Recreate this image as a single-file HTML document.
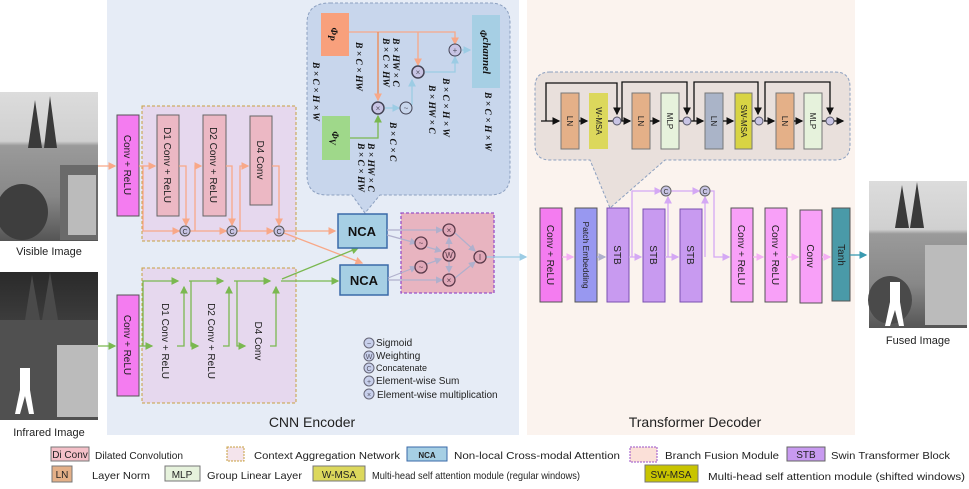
<!DOCTYPE html>
<html><head><meta charset="utf-8"><style>
html,body{margin:0;padding:0;background:#fff}
svg{display:block;font-family:"Liberation Sans",sans-serif}
.vt{font-size:10px;fill:#222}
.m{font-family:"Liberation Serif",serif;font-style:italic;font-weight:bold;font-size:9.5px;fill:#111}
.lg{font-size:10.5px;fill:#222}
</style></head><body>
<svg width="969" height="489" viewBox="0 0 969 489" xmlns="http://www.w3.org/2000/svg">
<defs>
<marker id="ao" markerWidth="6" markerHeight="6" refX="5" refY="3" orient="auto"><path d="M0,0L6,3L0,6z" fill="#f8a888"/></marker>
<marker id="ag" markerWidth="6" markerHeight="6" refX="5" refY="3" orient="auto"><path d="M0,0L6,3L0,6z" fill="#7ab850"/></marker>
<marker id="ab" markerWidth="6" markerHeight="6" refX="5" refY="3" orient="auto"><path d="M0,0L6,3L0,6z" fill="#9ccce4"/></marker>
<marker id="ap" markerWidth="6" markerHeight="6" refX="5" refY="3" orient="auto"><path d="M0,0L6,3L0,6z" fill="#f4b0f4"/></marker>
<marker id="av" markerWidth="6" markerHeight="6" refX="5" refY="3" orient="auto"><path d="M0,0L6,3L0,6z" fill="#d4a8f4"/></marker>
<marker id="ak" markerWidth="6" markerHeight="6" refX="5" refY="3" orient="auto"><path d="M0,0L6,3L0,6z" fill="#111"/></marker>
<marker id="ai" markerWidth="6" markerHeight="6" refX="5" refY="3" orient="auto"><path d="M0,0L6,3L0,6z" fill="#b0b0cc"/></marker>
<marker id="at" markerWidth="6" markerHeight="6" refX="5" refY="3" orient="auto"><path d="M0,0L6,3L0,6z" fill="#3a9ab0"/></marker>
<linearGradient id="vis" x1="0" y1="0" x2="0" y2="1"><stop offset="0" stop-color="#dcdcdc"/><stop offset="0.33" stop-color="#d0d0d0"/><stop offset="0.36" stop-color="#9a9a9a"/><stop offset="0.7" stop-color="#888"/><stop offset="1" stop-color="#555"/></linearGradient>
<linearGradient id="ir" x1="0" y1="0" x2="0" y2="1"><stop offset="0" stop-color="#2a2a2a"/><stop offset="0.4" stop-color="#404040"/><stop offset="1" stop-color="#333"/></linearGradient>
</defs>

<rect x="107" y="0" width="412" height="435" fill="#e6ecf6"/>
<rect x="527" y="0" width="328" height="435" fill="#fbf3ee"/>
<text x="312" y="427" font-size="14" text-anchor="middle" fill="#222">CNN Encoder</text>
<text x="695" y="427" font-size="14" text-anchor="middle" fill="#222">Transformer Decoder</text>

<rect x="0" y="92" width="98" height="149" fill="url(#vis)"/>
<path d="M28,148 L35,100 L42,148z M44,148 L50,96 L57,148z" fill="#3a3a3a"/>
<rect x="60" y="165" width="38" height="75" fill="#6a6a6a"/>
<rect x="68" y="175" width="28" height="60" fill="#bbb"/>
<ellipse cx="22" cy="212" rx="26" ry="28" fill="#3e3e3e"/>
<text x="49" y="255" font-size="11" text-anchor="middle" fill="#222">Visible Image</text>
<rect x="0" y="272" width="98" height="148" fill="url(#ir)"/>
<path d="M25,320 L32,275 L40,320z M42,320 L50,272 L58,320z" fill="#4a4a4a"/>
<rect x="0" y="320" width="98" height="100" fill="#505050"/>
<rect x="57" y="345" width="41" height="72" fill="#bbb"/>
<path d="M20,368 h10 v22 l4,24 h-5 l-4,-18 l-5,18 h-5 l5,-24z" fill="#fff"/>
<text x="49" y="436" font-size="11" text-anchor="middle" fill="#222">Infrared Image</text>
<rect x="869" y="181" width="98" height="147" fill="url(#vis)"/>
<path d="M895,228 L902,185 L909,228z M910,228 L917,182 L924,228z" fill="#3a3a3a"/>
<rect x="925" y="245" width="42" height="80" fill="#bbb"/>
<ellipse cx="890" cy="300" rx="22" ry="24" fill="#4a4a4a"/>
<path d="M890,282 h10 v20 l4,24 h-5 l-4,-16 l-5,16 h-5 l5,-24z" fill="#fff"/>
<text x="918" y="344" font-size="11" text-anchor="middle" fill="#222">Fused Image</text>

<rect x="142" y="106" width="154" height="135" fill="#e6d8ee" stroke="#c8a040" stroke-dasharray="3,2"/>
<rect x="117" y="115" width="22" height="101" fill="#f47cf0" stroke="#555"/>
<text transform="translate(124,165) rotate(90)" class="vt" text-anchor="middle">Conv + ReLU</text>
<g fill="#ecb8c4" stroke="#666">
<rect x="157" y="115" width="22" height="101"/><rect x="203" y="115" width="23" height="101"/><rect x="250" y="116" width="22" height="89"/>
<rect x="154" y="295" width="23" height="93"/><rect x="200" y="295" width="23" height="93"/><rect x="247" y="295" width="23" height="93"/>
</g>
<text transform="translate(164,165) rotate(90)" class="vt" text-anchor="middle">D1 Conv + ReLU</text>
<text transform="translate(210,165) rotate(90)" class="vt" text-anchor="middle">D2 Conv + ReLU</text>
<text transform="translate(257,160) rotate(90)" class="vt" text-anchor="middle">D4 Conv</text>
<g fill="none" stroke="#f8a888" stroke-width="1.3">
<path d="M98,166 H115" marker-end="url(#ao)"/>
<path d="M139,166 H155" marker-end="url(#ao)"/>
<path d="M143,166 V231 H179" marker-end="url(#ao)"/>
<path d="M179,166 H186 V225" marker-end="url(#ao)"/>
<path d="M190,231 H226" marker-end="url(#ao)"/>
<path d="M195,231 V166 H201" marker-end="url(#ao)"/>
<path d="M226,166 H232 V225" marker-end="url(#ao)"/>
<path d="M237,231 H273" marker-end="url(#ao)"/>
<path d="M240,231 V166 H248" marker-end="url(#ao)"/>
<path d="M272,166 H279 V225" marker-end="url(#ao)"/>
<path d="M284,231 H335" marker-end="url(#ao)"/>
<path d="M284,233 L362,263" marker-end="url(#ao)"/>
</g>
<g fill="#c8c4e4" stroke="#555"><circle cx="185" cy="231" r="5"/><circle cx="232" cy="231" r="5"/><circle cx="279" cy="231" r="5"/>
<circle cx="184" cy="281" r="5"/><circle cx="229" cy="281" r="5"/><circle cx="276" cy="281" r="5"/></g>
<g font-size="7" text-anchor="middle" fill="#333"><text x="185" y="234">C</text><text x="232" y="234">C</text><text x="279" y="234">C</text><text x="184" y="284">C</text><text x="229" y="284">C</text><text x="276" y="284">C</text></g>

<rect x="142" y="268" width="154" height="135" fill="#e6d8ee" stroke="#c8a040" stroke-dasharray="3,2"/>
<rect x="117" y="295" width="22" height="101" fill="#f47cf0" stroke="#555"/>
<text transform="translate(124,345) rotate(90)" class="vt" text-anchor="middle">Conv + ReLU</text>
<text transform="translate(162,341) rotate(90)" class="vt" text-anchor="middle">D1 Conv + ReLU</text>
<text transform="translate(208,341) rotate(90)" class="vt" text-anchor="middle">D2 Conv + ReLU</text>
<text transform="translate(255,341) rotate(90)" class="vt" text-anchor="middle">D4 Conv</text>
<g fill="none" stroke="#7ab850" stroke-width="1.3">
<path d="M98,346 H115" marker-end="url(#ag)"/>
<path d="M139,346 H152" marker-end="url(#ag)"/>
<path d="M143,346 V281 H178" marker-end="url(#ag)"/>
<path d="M177,346 H184 V287" marker-end="url(#ag)"/>
<path d="M189,281 H223" marker-end="url(#ag)"/>
<path d="M191,281 V346 H198" marker-end="url(#ag)"/>
<path d="M223,346 H229 V287" marker-end="url(#ag)"/>
<path d="M234,281 H270" marker-end="url(#ag)"/>
<path d="M237,281 V346 H245" marker-end="url(#ag)"/>
<path d="M270,346 H276 V287" marker-end="url(#ag)"/>
<path d="M281,281 H338" marker-end="url(#ag)"/>
<path d="M282,279 L358,248" marker-end="url(#ag)"/>
</g>

<path d="M330,3 H490 Q510,3 510,23 V175 Q510,195 490,195 H380 L365,213 L352,195 H327 Q307,195 307,175 V23 Q307,3 330,3z" fill="#c8d6ec" stroke="#8ca0c0" stroke-dasharray="3,2"/>
<rect x="321" y="13" width="28" height="43" fill="#f8a07c"/>
<text transform="translate(331,34) rotate(90)" class="m" font-size="14" text-anchor="middle">Φ<tspan font-size="9" dy="3">P</tspan></text>
<rect x="322" y="116" width="28" height="44" fill="#9fd88a"/>
<text transform="translate(332,138) rotate(90)" class="m" font-size="14" text-anchor="middle">Φ<tspan font-size="9" dy="3">V</tspan></text>
<rect x="472" y="15" width="28" height="73" fill="#a6cfe4"/>
<text transform="translate(480,52) rotate(90)" class="m" font-size="13" text-anchor="middle">Φ<tspan font-size="11" dy="-3">channel</tspan></text>
<g fill="none" stroke-width="1.3">
<path d="M349,32 H455 V44" stroke="#f8a888" marker-end="url(#ao)"/>
<path d="M378,32 V100" stroke="#f08850" marker-end="url(#ao)"/>
<path d="M418,32 V65" stroke="#f8a888" marker-end="url(#ao)"/>
<path d="M350,138 H378 V116" stroke="#7ab850" marker-end="url(#ag)"/>
<path d="M385,108 H399" stroke="#9ccce4" marker-end="url(#ab)"/>
<path d="M412,105 V80" stroke="#9ccce4" marker-end="url(#ab)"/>
<path d="M425,72 H455 V57" stroke="#9ccce4" marker-end="url(#ab)"/>
<path d="M462,50 H470" stroke="#9ccce4" marker-end="url(#ab)"/>
</g>
<g fill="#c8c4e4" stroke="#445"><circle cx="378" cy="108" r="6" stroke-width="1.5"/><circle cx="418" cy="72" r="6" stroke-width="1.5"/><circle cx="455" cy="50" r="6"/><circle cx="406" cy="108" r="6" fill="#c8d6ec"/></g>
<g font-size="8" text-anchor="middle" fill="#556"><text x="378" y="111">×</text><text x="418" y="75">×</text><text x="455" y="53">+</text><text x="406" y="111">~</text></g>
<g class="m">
<text transform="translate(313,62) rotate(90)">B × C × H × W</text>
<text transform="translate(356,42) rotate(90)">B × C × HW</text>
<text transform="translate(393,38) rotate(90)">B × HW × C</text>
<text transform="translate(383,38) rotate(90)">B × C × HW</text>
<text transform="translate(368,143) rotate(90)">B × HW × C</text>
<text transform="translate(358,143) rotate(90)">B × C × HW</text>
<text transform="translate(390,122) rotate(90)">B × C × C</text>
<text transform="translate(443,78) rotate(90)">B × C × H × W</text>
<text transform="translate(429,85) rotate(90)">B × HW × C</text>
<text transform="translate(485,92) rotate(90)">B × C × H × W</text>
</g>

<rect x="338" y="214" width="49" height="34" fill="#a6cfe4" stroke="#3a6aa8" stroke-width="1.5"/>
<text x="362" y="236" font-size="13" font-weight="bold" text-anchor="middle" fill="#111">NCA</text>
<rect x="340" y="265" width="48" height="30" fill="#a6cfe4" stroke="#3a6aa8" stroke-width="1.5"/>
<text x="364" y="285" font-size="13" font-weight="bold" text-anchor="middle" fill="#111">NCA</text>

<rect x="401" y="213" width="93" height="80" fill="#e8b4c0" stroke="#9a50c8" stroke-dasharray="3,2" stroke-width="1.3"/>
<g fill="none" stroke="#b0b0cc" stroke-width="1.2">
<path d="M387,230 H442" marker-end="url(#ai)"/>
<path d="M387,235 L416,243" marker-end="url(#ai)"/>
<path d="M388,280 H442" marker-end="url(#ai)"/>
<path d="M388,278 L416,267" marker-end="url(#ai)"/>
<path d="M427,247 L441,251" marker-end="url(#ai)"/>
<path d="M427,264 L441,259" marker-end="url(#ai)"/>
<path d="M449,249 V238" marker-end="url(#ai)"/>
<path d="M449,261 V272" marker-end="url(#ai)"/>
<path d="M455,233 L475,251" marker-end="url(#ai)"/>
<path d="M455,278 L475,262" marker-end="url(#ai)"/>
</g>
<path d="M486,257 H526" fill="none" stroke="#9ccce4" stroke-width="1.3" marker-end="url(#ab)"/>
<g fill="#e0a8b8" stroke="#5a3a4a" stroke-width="1.3"><circle cx="449" cy="230" r="6"/><circle cx="449" cy="280" r="6"/><circle cx="421" cy="243" r="6"/><circle cx="421" cy="267" r="6"/><circle cx="449" cy="255" r="6"/><circle cx="480" cy="257" r="6"/></g>
<g font-size="8" text-anchor="middle" fill="#5a3a4a"><text x="449" y="233">×</text><text x="449" y="283">×</text><text x="421" y="246">~</text><text x="421" y="270">~</text><text x="449" y="258">W</text><text x="480" y="260">I</text></g>

<g fill="#c8d0ec" stroke="#667"><circle cx="369" cy="343" r="5"/><circle cx="369" cy="356" r="5"/><circle cx="369" cy="368" r="5"/><circle cx="369" cy="381" r="5"/><circle cx="369" cy="394" r="5"/></g>
<g font-size="7" text-anchor="middle" fill="#556"><text x="369" y="346">~</text><text x="369" y="359">W</text><text x="369" y="371">C</text><text x="369" y="384">+</text><text x="369" y="397">×</text></g>
<g font-size="10" fill="#222"><text x="376" y="346">Sigmoid</text><text x="376" y="359">Weighting</text><text x="376" y="371" font-size="9">Concatenate</text><text x="376" y="384">Element-wise Sum</text><text x="377" y="398">Element-wise multiplication</text></g>

<path d="M550,72 H835 Q850,72 850,87 V145 Q850,160 835,160 H665 L610,208 L590,160 H550 Q535,160 535,145 V87 Q535,72 550,72z" fill="#e9e0dc" stroke="#8ca0c0" stroke-dasharray="3,2"/>
<rect x="561" y="93" width="18" height="56" fill="#e4b088" stroke="#777"/>
<rect x="589" y="93" width="19" height="56" fill="#dcd85c"/>
<rect x="632" y="93" width="18" height="56" fill="#e4b088" stroke="#777"/>
<rect x="661" y="93" width="18" height="56" fill="#e6f2dc" stroke="#777"/>
<rect x="705" y="93" width="18" height="56" fill="#aab4c8" stroke="#777"/>
<rect x="735" y="93" width="17" height="56" fill="#d8d444" stroke="#777"/>
<rect x="776" y="93" width="18" height="56" fill="#e4b088" stroke="#777"/>
<rect x="804" y="93" width="18" height="56" fill="#e6f2dc" stroke="#777"/>
<g font-size="8" fill="#222" text-anchor="middle">
<text transform="translate(567,121) rotate(90)">LN</text><text transform="translate(596,121) rotate(90)">W-MSA</text>
<text transform="translate(638,121) rotate(90)">LN</text><text transform="translate(667,121) rotate(90)">MLP</text>
<text transform="translate(711,121) rotate(90)">LN</text><text transform="translate(741,121) rotate(90)">SW-MSA</text>
<text transform="translate(782,121) rotate(90)">LN</text><text transform="translate(810,121) rotate(90)">MLP</text>
</g>
<g fill="none" stroke="#111" stroke-width="1.3">
<path d="M541,121 H559" marker-end="url(#ak)"/><path d="M579,121 H587" marker-end="url(#ak)"/><path d="M608,121 H613"/>
<path d="M621,121 H630" marker-end="url(#ak)"/><path d="M650,121 H659" marker-end="url(#ak)"/><path d="M679,121 H683"/>
<path d="M691,121 H703" marker-end="url(#ak)"/><path d="M723,121 H733" marker-end="url(#ak)"/><path d="M752,121 H756"/>
<path d="M764,121 H774" marker-end="url(#ak)"/><path d="M794,121 H802" marker-end="url(#ak)"/><path d="M822,121 H826"/>
<path d="M834,121 H843" marker-end="url(#ak)"/>
<path d="M546,121 V83 H617 V114" marker-end="url(#ak)"/>
<path d="M622,121 V82 H687 V114" marker-end="url(#ak)"/>
<path d="M694,121 V82 H758 V114" marker-end="url(#ak)"/>
<path d="M765,121 V82 H830 V114" marker-end="url(#ak)"/>
</g>
<g fill="#c8c4e4" stroke="#556"><circle cx="617" cy="121" r="4"/><circle cx="687" cy="121" r="4"/><circle cx="759" cy="121" r="4"/><circle cx="830" cy="121" r="4"/></g>

<rect x="540" y="208" width="22" height="94" fill="#f47cf0" stroke="#555"/>
<rect x="575" y="208" width="22" height="94" fill="#9898f0" stroke="#555"/>
<rect x="607" y="208" width="22" height="94" fill="#c89af0" stroke="#7a50b0"/>
<rect x="643" y="209" width="22" height="93" fill="#c89af0" stroke="#7a50b0"/>
<rect x="680" y="209" width="22" height="93" fill="#c89af0" stroke="#7a50b0"/>
<rect x="731" y="208" width="22" height="94" fill="#f8a0f8" stroke="#555"/>
<rect x="765" y="208" width="22" height="94" fill="#f8a0f8" stroke="#555"/>
<rect x="800" y="210" width="22" height="93" fill="#f8a0f8" stroke="#555"/>
<rect x="832" y="208" width="18" height="93" fill="#4a9aa8" stroke="#555"/>
<g font-size="10" fill="#222" text-anchor="middle">
<text transform="translate(547,255) rotate(90)">Conv + ReLU</text>
<text transform="translate(583,255) rotate(90)" font-size="8.5">Patch Embedding</text>
<text transform="translate(614,255) rotate(90)">STB</text>
<text transform="translate(650,255) rotate(90)">STB</text>
<text transform="translate(687,255) rotate(90)">STB</text>
<text transform="translate(738,255) rotate(90)">Conv + ReLU</text>
<text transform="translate(772,255) rotate(90)">Conv + ReLU</text>
<text transform="translate(807,256) rotate(90)">Conv</text>
<text transform="translate(838,255) rotate(90)">Tanh</text>
</g>
<g fill="none" stroke-width="1.3">
<path d="M562,257 H573" stroke="#f4b0f4" marker-end="url(#ap)"/>
<path d="M597,257 H605" stroke="#a8a8f4" marker-end="url(#ai)"/>
<path d="M629,257 H641" stroke="#d4a8f4" marker-end="url(#av)"/>
<path d="M665,257 H678" stroke="#d4a8f4" marker-end="url(#av)"/>
<path d="M632,257 V191 H661" stroke="#d4a8f4" marker-end="url(#av)"/>
<path d="M669,191 H699" stroke="#d4a8f4" marker-end="url(#av)"/>
<path d="M668,257 V197" stroke="#d4a8f4" marker-end="url(#av)"/>
<path d="M705,257 V197" stroke="#d4a8f4" marker-end="url(#av)"/>
<path d="M710,191 H714 V257 H729" stroke="#d4a8f4" marker-end="url(#av)"/>
<path d="M753,257 H763" stroke="#f4b0f4" marker-end="url(#ap)"/>
<path d="M787,257 H798" stroke="#f4b0f4" marker-end="url(#ap)"/>
<path d="M822,257 H830" stroke="#f4b0f4" marker-end="url(#ap)"/>
<path d="M850,255 H866" stroke="#3a9ab0" marker-end="url(#at)"/>
</g>
<g fill="#c8c4e4" stroke="#666"><circle cx="666" cy="191" r="5"/><circle cx="705" cy="191" r="5"/></g>
<g font-size="7" text-anchor="middle" fill="#333"><text x="666" y="194">C</text><text x="705" y="194">C</text></g>

<g class="lg">
<rect x="51" y="447" width="38" height="14" fill="#f4c0c8" stroke="#777"/><text x="70" y="458" text-anchor="middle" font-size="10">Di Conv</text>
<text x="95" y="459" textLength="88" lengthAdjust="spacingAndGlyphs">Dilated Convolution</text>
<rect x="227" y="447" width="17" height="14" fill="#f4e4ec" stroke="#c8a040" stroke-dasharray="2,1"/>
<text x="254" y="459" textLength="146" lengthAdjust="spacingAndGlyphs">Context Aggregation Network</text>
<rect x="407" y="447" width="40" height="14" fill="#a6cfe4" stroke="#3a6aa8"/><text x="427" y="458" text-anchor="middle" font-size="8" font-weight="bold">NCA</text>
<text x="454" y="459" textLength="166" lengthAdjust="spacingAndGlyphs">Non-local Cross-modal  Attention</text>
<rect x="630" y="447" width="27" height="15" fill="#fbe0d8" stroke="#9a50c8" stroke-dasharray="2,1"/>
<text x="665" y="459" textLength="114" lengthAdjust="spacingAndGlyphs">Branch Fusion Module</text>
<rect x="787" y="447" width="38" height="14" fill="#c89af0" stroke="#666"/><text x="806" y="458" text-anchor="middle" font-size="10">STB</text>
<text x="831" y="459" textLength="119" lengthAdjust="spacingAndGlyphs">Swin Transformer Block</text>
<rect x="52" y="466" width="20" height="16" fill="#e4b088" stroke="#777"/><text x="62" y="478" text-anchor="middle" font-size="10">LN</text>
<text x="92" y="479" textLength="58" lengthAdjust="spacingAndGlyphs">Layer Norm</text>
<rect x="165" y="466" width="35" height="15" fill="#e6f2dc" stroke="#777"/><text x="182" y="478" text-anchor="middle" font-size="10">MLP</text>
<text x="207" y="479" textLength="95" lengthAdjust="spacingAndGlyphs">Group Linear Layer</text>
<rect x="313" y="466" width="52" height="15" fill="#dcd85c" stroke="#777"/><text x="339" y="478" text-anchor="middle" font-size="10">W-MSA</text>
<text x="372" y="479" textLength="208" lengthAdjust="spacingAndGlyphs">Multi-head self attention module (regular windows)</text>
<rect x="645" y="465" width="53" height="17" fill="#c8c400" stroke="#777"/><text x="671" y="478" text-anchor="middle" font-size="10">SW-MSA</text>
<text x="708" y="480" textLength="257" lengthAdjust="spacingAndGlyphs">Multi-head self attention module (shifted windows)</text>
</g>
</svg>
</body></html>
